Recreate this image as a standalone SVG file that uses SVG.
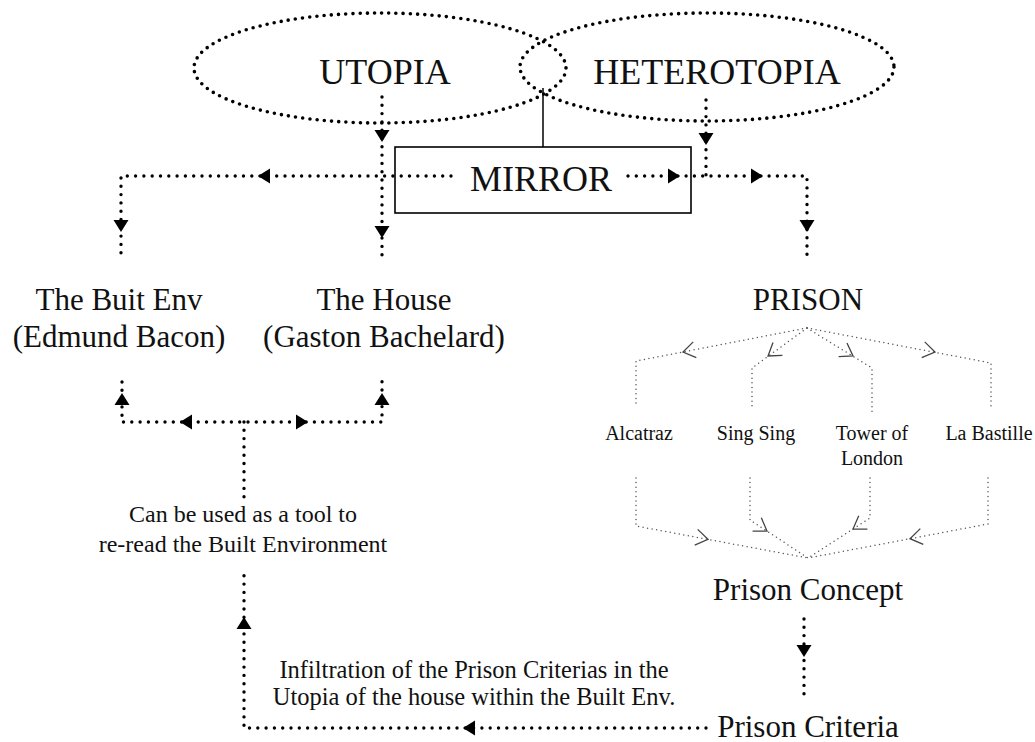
<svg xmlns="http://www.w3.org/2000/svg" width="1035" height="742" viewBox="0 0 1035 742">
  <style>
    .bg { fill: #ffffff; }
    .dots { fill: none; stroke: #000; stroke-width: 3.4; stroke-linecap: round; stroke-dasharray: 0 8.3; }
    .edots { fill: none; stroke: #000; stroke-width: 3.6; stroke-linecap: round; stroke-dasharray: 0 7.2; }
    .fine { fill: none; stroke: #555; stroke-width: 1.5; stroke-linecap: round; stroke-dasharray: 0 4.6; }
    .chev { fill: none; stroke: #444; stroke-width: 1.3; }
    .tri { fill: #000; }
    .solid { fill: none; stroke: #000; stroke-width: 1.5; }
    .box { fill: none; stroke: #000; stroke-width: 1.6; }
    text { font-family: "Liberation Serif", "Times New Roman", serif; fill: #111; text-anchor: middle; }
    .big { font-size: 36px; }
    .mid { font-size: 31px; }
    .note { font-size: 24px; }
    .note2 { font-size: 24.5px; }
    .small { font-size: 20px; }
  </style>
  <defs>
    <!-- solid arrowhead pointing along +x, tip at origin -->
    <path id="tri" class="tri" d="M0,0 L-12,-7.5 L-12,7.5 Z"/>
    <!-- open chevron pointing along +x, tip at origin -->
    <path id="chev" class="chev" d="M-12,-8 L0,0 L-12,8"/>
  </defs>

  <rect class="bg" x="0" y="0" width="1035" height="742"/>

  <!-- Utopia / Heterotopia -->
  <g id="utopia">
    <ellipse class="edots" cx="380" cy="68" rx="186" ry="55"/>
    <text class="big" x="385" y="84">UTOPIA</text>
  </g>
  <g id="heterotopia">
    <ellipse class="edots" cx="707" cy="67" rx="187" ry="54"/>
    <text class="big" x="717" y="84">HETEROTOPIA</text>
  </g>

  <!-- Mirror -->
  <g id="mirror">
    <rect class="box" x="395" y="147" width="296" height="66"/>
    <text class="big" x="541" y="191">MIRROR</text>
  </g>

  <g id="built-env">
    <text class="mid" x="119" y="310">The Buit Env</text>
    <text class="mid" x="119" y="347">(Edmund Bacon)</text>
  </g>
  <g id="house">
    <text class="mid" x="384" y="310">The House</text>
    <text class="mid" x="384" y="347">(Gaston Bachelard)</text>
  </g>

  <g id="tool-note">
    <text class="note" x="243" y="522">Can be used as a tool to</text>
    <text class="note" x="243" y="552">re-read the Built Environment</text>
  </g>

  <g id="prison">
    <text class="mid" x="808" y="310">PRISON</text>
  </g>
  <g id="alcatraz"><text class="small" x="639" y="440">Alcatraz</text></g>
  <g id="sing-sing"><text class="small" x="756" y="440">Sing Sing</text></g>
  <g id="tower-of-london">
    <text class="small" x="872" y="440">Tower of</text>
    <text class="small" x="872" y="465">London</text>
  </g>
  <g id="la-bastille"><text class="small" x="989" y="440">La Bastille</text></g>

  <g id="prison-concept">
    <text class="mid" x="808" y="600">Prison Concept</text>
  </g>
  <g id="prison-criteria">
    <text class="mid" x="808" y="737">Prison Criteria</text>
  </g>

  <g id="infiltration-note">
    <text class="note2" x="474" y="678">Infiltration of the Prison Criterias in the</text>
    <text class="note2" x="474" y="705">Utopia of the house within the Built Env.</text>
  </g>

  <!-- Connectors -->
  <g id="connectors">
    <!-- mirror stem to the overlap of the two ellipses -->
    <line class="solid" x1="543" y1="88" x2="543" y2="147"/>

    <!-- utopia down to the house -->
    <path class="dots" d="M382,97 V262"/>
    <use href="#tri" transform="translate(382,142) rotate(90)"/>
    <use href="#tri" transform="translate(382,238) rotate(90)"/>

    <!-- heterotopia down to the right branch -->
    <path class="dots" d="M706,100 V176"/>
    <use href="#tri" transform="translate(706,145) rotate(90)"/>

    <!-- mirror left branch to the built env -->
    <path class="dots" d="M451,176 H121 V258"/>
    <use href="#tri" transform="translate(258,176) rotate(180)"/>
    <use href="#tri" transform="translate(121,232) rotate(90)"/>

    <!-- mirror right branch to the prison -->
    <path class="dots" d="M628,176 H807 V257"/>
    <use href="#tri" transform="translate(680,176)"/>
    <use href="#tri" transform="translate(763,176)"/>
    <use href="#tri" transform="translate(807,232) rotate(90)"/>

    <!-- tool note back up to both readings -->
    <path class="dots" d="M122,382 V422 H382 V380"/>
    <path class="dots" d="M244,422 V503"/>
    <use href="#tri" transform="translate(122,393) rotate(-90)"/>
    <use href="#tri" transform="translate(382,393) rotate(-90)"/>
    <use href="#tri" transform="translate(180,422) rotate(180)"/>
    <use href="#tri" transform="translate(308,422)"/>

    <!-- prison criteria back to the tool note -->
    <path class="dots" d="M706,728 H244 V568"/>
    <use href="#tri" transform="translate(463,728) rotate(180)"/>
    <use href="#tri" transform="translate(244,617) rotate(-90)"/>

    <!-- prison concept to prison criteria -->
    <path class="dots" d="M804,619 V700"/>
    <use href="#tri" transform="translate(804,657) rotate(90)"/>

    <!-- prison to each example -->
    <path class="fine" d="M807,328 L636,361 V405"/>
    <path class="fine" d="M807,328 L752,368 V410"/>
    <path class="fine" d="M807,328 L872,368 V412"/>
    <path class="fine" d="M807,328 L991,363 V410"/>
    <use href="#chev" transform="translate(683,352) rotate(169)"/>
    <use href="#chev" transform="translate(768,356) rotate(144)"/>
    <use href="#chev" transform="translate(853,356) rotate(31.6)"/>
    <use href="#chev" transform="translate(935,352) rotate(10.8)"/>

    <!-- each example to the prison concept -->
    <path class="fine" d="M636,478 V526 L808,558"/>
    <path class="fine" d="M750,478 V520 L808,558"/>
    <path class="fine" d="M870,478 V518 L808,558"/>
    <path class="fine" d="M988,478 V524 L808,558"/>
    <use href="#chev" transform="translate(708,539.4) rotate(10.5)"/>
    <use href="#chev" transform="translate(767,531) rotate(33.2)"/>
    <use href="#chev" transform="translate(853,529) rotate(147.2)"/>
    <use href="#chev" transform="translate(910,538.7) rotate(169.3)"/>
  </g>
</svg>
